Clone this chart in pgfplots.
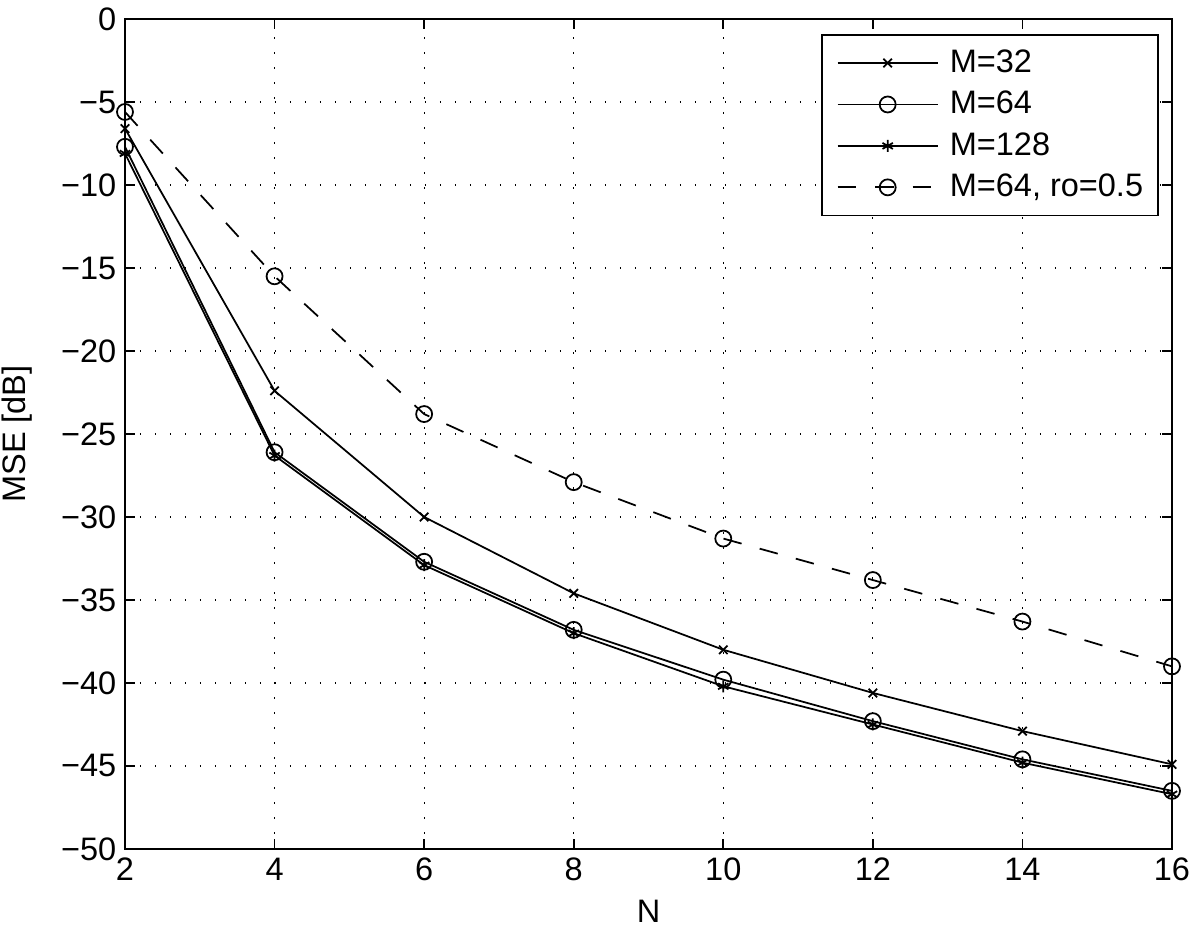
\documentclass[border=0pt]{standalone}
\usepackage{fontspec}
\setmainfont{Liberation Sans}
\usepackage{pgfplots}
\pgfplotsset{compat=1.18}
\begin{document}
\begin{tikzpicture}
\begin{axis}[
    name=ax,
    scale only axis,
    width=418.8pt, height=332pt,
    xmin=2, xmax=16, ymin=-50, ymax=0,
    xtick={2,4,...,16}, ytick={-50,-45,...,0},
    yticklabels={−50,−45,−40,−35,−30,−25,−20,−15,−10,−5,0},
    tick align=inside,
    major tick length=4pt,
    grid=major,
    major grid style={black, line width=0.5pt, dash pattern=on 0.6pt off 5.4pt},
    axis line style={line width=0.7pt},
    every tick/.style={black, line width=0.7pt},
    tick label style={font=\fontsize{13}{15.6}\selectfont},
    /pgf/number format/assume math mode=true,
    xlabel={N}, ylabel={MSE [dB]},
    label style={font=\fontsize{13}{15.6}\selectfont},
    xlabel style={at={(axis description cs:0.5,0)}, anchor=center, yshift=-25pt},
    ylabel style={at={(axis description cs:0,0.5)}, anchor=center, yshift=43pt},
    legend style={at={(rel axis cs:0.9876,0.982)}, anchor=north east,
        font=\fontsize{13}{15.6}\selectfont, draw=black, line width=0.7pt,
        row sep=2pt, inner xsep=4pt, inner ysep=4pt},
    legend cell align=left,
    legend image code/.code={
        \path (-2pt,0pt) (42.5pt,0pt);
        \draw[mark repeat=2,mark phase=2,#1] plot coordinates {(0pt,0pt)(20pt,0pt)(40pt,0pt)};
    },
]
\addplot[black, solid, line width=0.7pt, mark=x, mark size=2.4pt, mark options={solid}] coordinates {
    (2,-6.6) (4,-22.4) (6,-30.0) (8,-34.6) (10,-38.0) (12,-40.6) (14,-42.9) (16,-44.9)
};
\addplot[black, solid, line width=0.7pt, mark=o, mark size=3.2pt, mark options={solid}] coordinates {
    (2,-7.7) (4,-26.1) (6,-32.7) (8,-36.8) (10,-39.8) (12,-42.3) (14,-44.6) (16,-46.5)
};
\addplot[black, solid, line width=0.7pt, mark=asterisk, mark size=2.4pt, mark options={solid}] coordinates {
    (2,-8.1) (4,-26.3) (6,-32.9) (8,-37.0) (10,-40.2) (12,-42.5) (14,-44.8) (16,-46.7)
};
\addplot[black, line width=0.7pt, dash pattern=on 7.5pt off 7.5pt, mark=o, mark size=3.2pt, mark options={solid}] coordinates {
    (2,-5.6) (4,-15.5) (6,-23.8) (8,-27.9) (10,-31.3) (12,-33.8) (14,-36.3) (16,-39.0)
};
\legend{M=32, M=64, M=128, {M=64, ro=0.5}}
\end{axis}
\pgfresetboundingbox
\path[use as bounding box] ([shift={(-50pt,-35.6pt)}]ax.south west) rectangle ([shift={(11.2pt,7.6pt)}]ax.north east);
\end{tikzpicture}
\end{document}
